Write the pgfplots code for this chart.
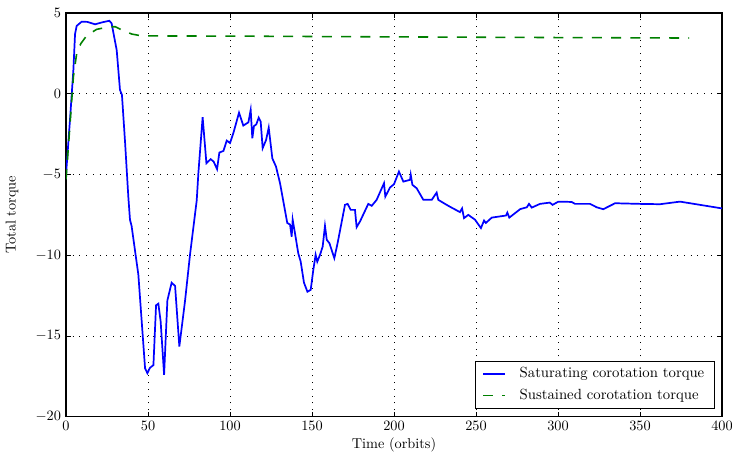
\documentclass[border=0pt]{standalone}
\usepackage{pgfplots}
\pgfplotsset{compat=1.18}
\begin{document}
\begin{tikzpicture}
\begin{axis}[
  name=main,
  scale only axis,
  width=459pt, height=282.5pt,
  xmin=0, xmax=400, ymin=-20, ymax=5,
  xtick={0,50,...,400}, ytick={-20,-15,...,5},
  tick align=inside, tick pos=both,
  major tick length=3.5pt,
  tick style={black, line width=0.6pt},
  grid=major,
  major grid style={black, line width=0.5pt, dash pattern=on 0.7pt off 4pt},
  axis line style={black, line width=0.9pt},
  xlabel={Time (orbits)}, ylabel={Total torque},
  xlabel style={at={(axis description cs:0.5,-0.0694)}, anchor=center},
  ylabel style={at={(axis description cs:-0.0824,0.5)}, anchor=center},
  legend cell align=left,
  legend style={at={(1,0)}, anchor=south east, xshift=-5pt, yshift=5.5pt,
    draw=black, line width=0.8pt, font=\fontsize{10.3}{12}\selectfont, inner xsep=5pt, inner ysep=2.5pt,
    row sep=2.5pt},
  legend image code/.code={\draw[#1] (0pt,0pt) -- (15.5pt,0pt); \path (0pt,0pt) (23pt,0pt);},
]
\addplot[blue, line width=1.2pt] coordinates {
(0,-5.0)(2.5,-1.5)(4.5,1.5)(5.5,3.7)(6.5,4.2)(9.5,4.46)(13,4.45)(17.7,4.3)(22,4.42)(26.4,4.52)(27.8,4.36)(30.9,2.7)(32.9,0.24)(34.1,-0.07)(36,-3.0)(38,-6.4)(39,-7.8)(40,-8.2)(44.1,-11.2)(48.2,-17.0)(49.6,-17.3)(51.2,-16.97)(53.3,-16.8)(54.9,-13.1)(56.3,-13.0)(57.7,-14.1)(59.8,-17.4)(61.8,-12.8)(64.4,-11.7)(66.5,-11.9)(69.1,-15.65)(72.6,-12.8)(75.6,-9.97)(79.7,-6.6)(80.7,-4.92)(83.3,-1.45)(85.6,-4.3)(88.2,-4.05)(90,-4.2)(92.1,-4.67)(93.5,-3.64)(96,-3.54)(98,-2.9)(100,-3.05)(102,-2.45)(105.5,-1.17)(108.1,-1.97)(111.2,-1.77)(112.6,-1.0)(113.6,-2.76)(114.6,-2.0)(116,-1.9)(117.5,-1.48)(118.7,-1.73)(119.9,-3.37)(122,-2.86)(123.6,-2.1)(125.8,-4.0)(128,-4.5)(130.5,-5.54)(134.9,-8.0)(136.6,-8.1)(137.6,-8.85)(138.2,-7.8)(139.6,-8.63)(141.6,-9.87)(143.1,-10.4)(145.1,-11.7)(147.2,-12.26)(149.2,-12.14)(150.8,-10.9)(152.2,-9.97)(153.2,-10.4)(154.9,-9.97)(156.5,-9.46)(157.9,-8.18)(159,-9.05)(160.6,-9.25)(163.6,-10.18)(165.5,-9.3)(170.1,-6.88)(171.7,-6.82)(173.6,-7.19)(176.2,-7.19)(177.2,-8.26)(179.3,-7.9)(184.3,-6.82)(186.4,-6.94)(189.4,-6.57)(193.9,-5.54)(194.7,-6.37)(197.6,-5.8)(200,-5.6)(203,-4.82)(205.7,-5.44)(209.8,-5.33)(210.2,-5.02)(211.2,-5.64)(213.8,-5.85)(217.9,-6.57)(223,-6.57)(226,-6.12)(227,-6.57)(233.1,-6.94)(240.2,-7.33)(241.5,-7.1)(242.7,-7.7)(245.3,-7.5)(249.4,-7.8)(253,-8.32)(254.9,-7.85)(256,-8.0)(259.6,-7.67)(268.3,-7.54)(269.1,-7.36)(270.3,-7.67)(277,-7.14)(281,-7.03)(282.3,-6.82)(284,-7.05)(289,-6.82)(295,-6.74)(296.7,-6.88)(300.2,-6.68)(308.3,-6.7)(310.4,-6.82)(319.5,-6.82)(323.6,-7.03)(327.6,-7.15)(330.7,-6.99)(334.8,-6.78)(350,-6.82)(362.2,-6.84)(374.4,-6.68)(386.6,-6.88)(400,-7.1)
};
\addlegendentry{Saturating corotation torque}
\addplot[color={rgb,1:red,0;green,0.5;blue,0}, line width=1.1pt, dash pattern=on 7pt off 6.5pt] coordinates {
(0,-5.3)(2,-2.5)(4.5,1.06)(6.5,2.5)(9,3.1)(12.6,3.6)(18.7,3.99)(26.8,4.15)(30,4.15)(34,3.95)(40,3.7)(46.1,3.58)(100,3.57)(200,3.52)(300,3.48)(380,3.45)
};
\addlegendentry{Sustained corotation torque}
\end{axis}
\pgfresetboundingbox
\path ([xshift=-46.2pt,yshift=-26.6pt]main.south west) rectangle ([xshift=7pt,yshift=9.1pt]main.north east);
\end{tikzpicture}
\end{document}
